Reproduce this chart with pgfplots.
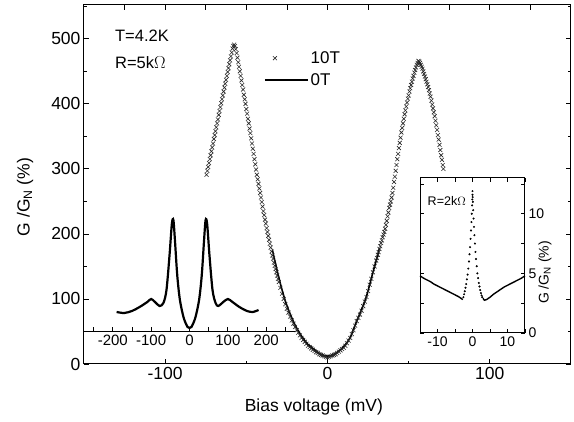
\documentclass[border=0pt]{standalone}
\usepackage{fontspec}
\setmainfont{Liberation Sans}
\usepackage{pgfplots}
\pgfplotsset{compat=1.18}

\pgfplotsset{
  every tick/.style={black,line width=0.8pt},
  axis line style={line width=1pt},
  /pgf/number format/assume math mode=true,
  crosslegend/.style={legend image code/.code={%
    \path[draw=none] (0pt,0pt) -- (43pt,0pt);
    \draw[black!85, line width=0.6pt] plot[only marks, mark=x, mark size=2.8pt] coordinates {(10pt,0pt)};}},
  linelegend/.style={legend image code/.code={\draw[black, line width=1.6pt] (0pt,0pt) -- (43pt,0pt);}},
}

\begin{document}
\begin{tikzpicture}
\path[use as bounding box] (-84pt,-58pt) rectangle (490pt,364pt);

% main axis
\begin{axis}[
  name=main,
  at={(0pt,0pt)}, anchor=south west,
  scale only axis, width=487pt, height=359pt,
  xmin=-150, xmax=150, ymin=0, ymax=552,
  xtick={-100,0,100}, minor xtick={-50,50}, xtick pos=left,
  ytick={0,100,...,500}, minor ytick={50,150,...,550},
  major tick length=5pt, minor tick length=3pt,
  tick align=inside,
  ticklabel style={font=\fontsize{17.5}{20}\selectfont},
  xlabel={Bias voltage (mV)},
  ylabel={G /G\textsubscript{N} (\%)},
  label style={font=\fontsize{17.5}{20}\selectfont},
  xlabel style={at={(axis description cs:0.472,-0.12)}, anchor=center},
  ylabel style={at={(axis description cs:-0.121,0.465)}, anchor=center},
  legend style={draw=none, fill=none, at={(axis cs:-41,487)}, anchor=north west,
    font=\fontsize{17}{20}\selectfont, row sep=4.5pt},
  legend cell align=left,
  clip=false,
]
\addplot[only marks, mark=x, mark size=2.8pt, mark options={line width=0.6pt, black!85}, crosslegend]
coordinates {
(-74.5,291) (-74,297) (-73.5,303) (-73,309) (-72.5,315) (-72,321) (-71.5,327) (-71,333)
(-70.5,339) (-70,346) (-69.5,352) (-69,358) (-68.5,364) (-68,370) (-67.5,376) (-67,383)
(-66.5,389) (-66,395) (-65.5,401) (-65,407) (-64.5,413) (-64,419) (-63.5,425) (-63,431)
(-62.5,437) (-62,443) (-61.5,449) (-61,455) (-60.5,461) (-60,467) (-59.5,473) (-59,479)
(-58.5,485) (-58,489) (-57.5,491) (-57,489) (-56.5,484) (-56,478) (-55.5,471) (-55,464)
(-54.5,457) (-54,450) (-53.5,443) (-53,436) (-52.5,429) (-52,422) (-51.5,414) (-51,407)
(-50.5,400) (-50,392) (-49.5,385) (-49,377) (-48.5,370) (-48,362) (-47.5,355) (-47,347)
(-46.5,339) (-46,331) (-45.5,323) (-45,315) (-44.5,307) (-44,299) (-43.5,291) (-43,284)
(-42.5,277) (-42,270) (-41.5,263) (-41,256) (-40.5,249) (-40,242) (-39.5,235) (-39,229)
(-38.5,222) (-38,216) (-37.5,209) (-37,203) (-36.5,197) (-36,191) (-35.5,185) (-35,179)
(-34.5,173) (-34,167) (-33.5,162) (-33,156) (-32.5,151) (-32,146) (-31.5,141) (-31,136)
(-30.5,131) (-30,126) (-29,117) (-28,108) (-27,100) (-26,92) (-25,85) (-24,79)
(-23,73) (-22,67) (-21,62) (-20,57) (-19,52) (-18,48) (-17,44) (-16,40)
(-15,37) (-14,34) (-13,31) (-12,28) (-11,26) (-10,24) (-9,22) (-8,20)
(-7,18) (-6,17) (-5,15) (-4,14) (-3,13) (-2,12) (-1,11) (0,10)
(1,11) (2,12) (3,13) (4,14) (5,15) (6,17) (7,19) (8,21)
(9,23) (10,25) (11,28) (12,32) (13,36) (14,40) (15,46) (16,52)
(17,59) (18,66) (19,71) (20,76) (21,82) (22,89) (23,96) (24,103)
(25,112) (26,122) (27,131) (28,141) (29,150) (30,159) (30.5,163) (31,168)
(31.5,172) (32,177) (32.5,181) (33,186) (33.5,190) (34,195) (34.5,199) (35,203)
(35.5,208) (36,214) (36.5,220) (37,227) (37.5,233) (38,240) (38.5,245) (39,250)
(39.5,256) (40,263) (40.5,271) (41,280) (41.5,288) (42,297) (42.5,306) (43,315)
(43.5,323) (44,332) (44.5,340) (45,348) (45.5,356) (46,363) (46.5,370) (47,377)
(47.5,384) (48,390) (48.5,396) (49,402) (49.5,408) (50,413) (50.5,419) (51,424)
(51.5,429) (52,434) (52.5,439) (53,443) (53.5,448) (54,452) (54.5,456) (55,460)
(55.5,463) (56,466) (56.5,465) (57,463) (57.5,460) (58,457) (58.5,454) (59,450)
(59.5,446) (60,442) (60.5,438) (61,434) (61.5,430) (62,426) (62.5,421) (63,416)
(63.5,411) (64,405) (64.5,399) (65,393) (65.5,387) (66,381) (66.5,374) (67,367)
(67.5,360) (68,352) (68.5,345) (69,337) (69.5,329) (70,321) (70.5,314) (71,306)
(71.4,300)
};
\addlegendentry{10T}
\addplot[black, line width=1.6pt, smooth, linelegend]
coordinates {
(-34,176) (-32,154) (-30,133) (-28,114) (-26,97) (-24,83) (-22,71) (-20,60)
(-18,51) (-16,43) (-14,36) (-12,30) (-10,26) (-8,22) (-6,18) (-4,15)
(-2,13) (0,12) (2,13) (4,15) (6,18) (8,22) (10,27) (12,33)
(14,41) (16,53) (18,66) (20,78) (22,90) (24,104) (26,122) (28,141)
(30,159) (32,178)
};
\addlegendentry{0T}
\node[anchor=west, font=\fontsize{16.5}{19}\selectfont] at (axis cs:-133,504) {T=4.2K};
\node[anchor=west, font=\fontsize{16.5}{19}\selectfont] at (axis cs:-133,463) {R=5k$\Omega$};
\end{axis}

% top ticks of the main frame
\begin{axis}[
  at={(0pt,0pt)}, anchor=south west,
  scale only axis, width=487pt, height=359pt,
  xmin=-150, xmax=150, ymin=0, ymax=552,
  axis line style={draw=none},
  xtick={-125,-100,...,125}, xtick pos=right, xticklabels={},
  ytick=\empty, major tick length=5pt, tick align=inside,
]
\end{axis}

% left inset
\begin{axis}[
  at={(0pt,32pt)}, anchor=south west,
  scale only axis, width=211pt, height=120pt,
  xmin=-275, xmax=275, ymin=0, ymax=120,
  axis x line=bottom, axis y line=none,
  x axis line style={-, line width=1pt},
  xtick={-200,-100,...,200}, minor xtick={-250,-150,...,250},
  major tick length=5pt, minor tick length=5pt, tick align=inside,
  ticklabel style={font=\fontsize{15}{17}\selectfont},
  clip=false,
]
\addplot[black, line width=2.2pt, smooth] coordinates {
(-190,20) (-170,19) (-150,21) (-130,25) (-110,30) (-100,33) (-90,30) (-78,26)
(-68,29) (-60,42) (-52,77) (-46,108) (-42,112) (-38,92) (-32,57) (-25,32)
(-15,14) (-5,5) (0,4) (5,5) (15,14) (25,32) (32,57) (38,92)
(42,112) (46,108) (52,77) (60,42) (68,29) (75,26) (88,30) (100,33)
(112,30) (130,25) (150,21) (165,20) (180,22)
};
\end{axis}

% right inset
\begin{axis}[
  at={(336pt,31pt)}, anchor=south west,
  scale only axis, width=105pt, height=155pt,
  axis background/.style={fill=white},
  xmin=-15, xmax=15, ymin=0, ymax=13,
  xtick={-10,0,10}, minor xtick={-15,-5,5,15},
  ytick={0,5,10}, minor ytick={2.5,7.5,12.5},
  yticklabel pos=right,
  major tick length=4pt, minor tick length=4pt, tick align=inside,
  ticklabel style={font=\fontsize{14}{16}\selectfont},
  ylabel={G /G\textsubscript{N} (\%)},
  ylabel style={font=\fontsize{14}{16}\selectfont, at={(axis description cs:1.19,0.39)}, anchor=center},
  clip=false,
]
\addplot[black, line width=1.4pt] coordinates {
(-15,4.8) (-14,4.6) (-13,4.45) (-12,4.3) (-11,4.1) (-10,3.95) (-9,3.8) (-8,3.65)
(-7,3.5) (-6,3.35) (-5,3.2) (-4,3.05) (-3.5,2.95) (-3,2.85) (-2.8,2.8)
};
\addplot[black, line width=1.4pt] coordinates {
(3.0,2.9) (3.4,2.75) (4,2.8) (5,3.0) (6,3.25) (7,3.45) (8,3.65) (9,3.85)
(10,4.0) (11,4.15) (12,4.3) (13,4.45) (14,4.6) (15,4.8)
};
\addplot[only marks, mark=*, mark size=0.8pt, black] coordinates {
(-2.6,3.0) (-2.4,3.25) (-2.2,3.5) (-2.0,3.8) (-1.8,4.1) (-1.6,4.5) (-1.4,4.9) (-1.2,5.4)
(-1.0,6.0) (-0.85,6.6) (-0.7,7.2) (-0.55,7.9) (-0.42,8.6) (-0.3,9.3) (-0.2,10.0) (-0.1,10.7)
(-0.05,11.2) (0,11.6) (0,11.9) (0.05,11.4) (0.1,11.0) (0.2,10.3) (0.3,9.6) (0.42,8.9)
(0.55,8.2) (0.7,7.5) (0.85,6.8) (1.0,6.2) (1.2,5.6) (1.4,5.0) (1.6,4.6) (1.8,4.2)
(2.0,3.9) (2.2,3.6) (2.4,3.35) (2.6,3.15) (2.8,3.0)
};
\node[anchor=west, font=\fontsize{12.5}{14}\selectfont] at (axis cs:-13.8,11.1) {R=2k$\Omega$};
\end{axis}
\end{tikzpicture}
\end{document}
